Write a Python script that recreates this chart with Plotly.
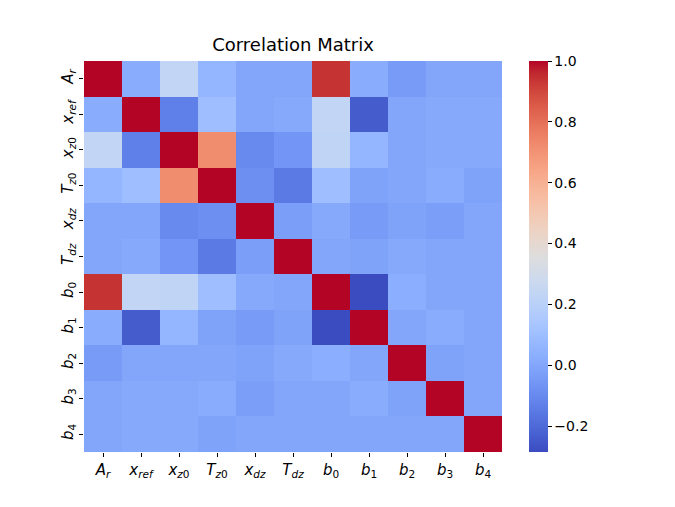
import plotly.graph_objects as go

labels = ["<i>A</i><sub><i>r</i></sub>", "<i>x</i><sub><i>ref</i></sub>", "<i>x</i><sub><i>z</i>0</sub>",
          "<i>T</i><sub><i>z</i>0</sub>", "<i>x</i><sub><i>dz</i></sub>", "<i>T</i><sub><i>dz</i></sub>",
          "<i>b</i><sub>0</sub>", "<i>b</i><sub>1</sub>", "<i>b</i><sub>2</sub>", "<i>b</i><sub>3</sub>",
          "<i>b</i><sub>4</sub>"]

row_Ar   = [1.00, 0.02, 0.24, 0.06, 0.00, 0.00, 0.94, 0.02, -0.04, 0.00, 0.00]
row_xref = [0.02, 1.00, -0.13, 0.10, 0.00, 0.01, 0.24, -0.24, 0.00, 0.01, 0.01]
row_xz0  = [0.24, -0.13, 1.00, 0.72, -0.10, -0.06, 0.23, 0.06, 0.00, 0.01, 0.01]
row_Tz0  = [0.06, 0.10, 0.72, 1.00, -0.08, -0.15, 0.10, -0.01, 0.00, 0.02, -0.01]
row_xdz  = [0.00, 0.00, -0.10, -0.08, 1.00, -0.03, 0.01, -0.04, -0.01, -0.03, 0.00]
row_Tdz  = [0.00, 0.01, -0.06, -0.15, -0.03, 1.00, 0.00, -0.01, 0.01, 0.00, 0.00]
row_b0   = [0.94, 0.24, 0.23, 0.10, 0.01, 0.00, 1.00, -0.285, 0.03, 0.00, 0.00]
row_b1   = [0.02, -0.24, 0.06, -0.01, -0.04, -0.01, -0.285, 1.00, 0.00, 0.02, 0.00]
row_b2   = [-0.04, 0.00, 0.00, 0.00, -0.01, 0.01, 0.03, 0.00, 1.00, -0.01, 0.00]
row_b3   = [0.00, 0.01, 0.01, 0.02, -0.03, 0.00, 0.00, 0.02, -0.01, 1.00, 0.00]
row_b4   = [0.00, 0.01, 0.01, -0.01, 0.00, 0.00, 0.00, 0.00, 0.00, 0.00, 1.00]

corr = [row_Ar, row_xref, row_xz0, row_Tz0, row_xdz, row_Tdz, row_b0, row_b1, row_b2, row_b3, row_b4]

coolwarm_rgb = [
    (59, 76, 192), (68, 90, 204), (77, 104, 215), (87, 117, 225), (98, 130, 234),
    (108, 142, 241), (119, 154, 247), (130, 165, 251), (141, 176, 254), (152, 185, 255),
    (163, 194, 255), (174, 201, 253), (184, 208, 249), (194, 213, 244), (204, 217, 238),
    (213, 219, 230), (221, 221, 221), (229, 216, 209), (236, 211, 197), (241, 204, 184),
    (245, 196, 172), (247, 187, 160), (247, 177, 148), (247, 166, 135), (244, 154, 123),
    (241, 141, 111), (236, 127, 99), (229, 112, 88), (222, 96, 77), (213, 80, 66),
    (203, 62, 56), (192, 40, 47), (180, 4, 38)]
n = len(coolwarm_rgb) - 1
colorscale = [[i / n, "rgb(%d,%d,%d)" % c] for i, c in enumerate(coolwarm_rgb)]

# page offset of 8px (body margin) compensated in margins
L, T, PW, PH = 76, 53, 418, 391

fig = go.Figure(go.Heatmap(
    z=corr, x=list(range(len(labels))), y=list(range(len(labels))),
    colorscale=colorscale,
    colorbar=dict(
        x=(529 - 84) / PW, xanchor="left", xref="paper", xpad=0,
        y=0.5, yanchor="middle", len=1, lenmode="fraction", ypad=0,
        thickness=19, thicknessmode="pixels", outlinewidth=0,
        tickvals=[-0.2, 0, 0.2, 0.4, 0.6, 0.8, 1.0],
        ticktext=["\u22120.2", "0.0", "0.2", "0.4", "0.6", "0.8", "1.0"],
        ticks="outside", ticklen=4, tickcolor="#000", tickwidth=1,
        tickfont=dict(size=14, color="#000"),
    ),
    hoverinfo="skip",
))

fig.update_layout(
    width=675, height=507,
    margin=dict(l=L, r=675 - L - PW, t=T, b=507 - T - PH, autoexpand=False),
    paper_bgcolor="white", plot_bgcolor="white",
    font=dict(family="DejaVu Sans", color="#000"),
    title=dict(text="Correlation Matrix", x=(L + PW / 2) / 675, xanchor="center",
               y=1 - 37 / 507, yanchor="middle", font=dict(size=18, color="#000")),
    xaxis=dict(tickmode="array", tickvals=list(range(len(labels))), ticktext=labels,
               ticks="outside", ticklen=4, tickcolor="#000", showgrid=False, zeroline=False,
               showline=False, tickfont=dict(size=15), tickangle=0, range=[-0.5, 10.5]),
    yaxis=dict(tickmode="array", tickvals=list(range(len(labels))), ticktext=labels,
               ticks="outside", ticklen=4, tickcolor="#000", showgrid=False, zeroline=False,
               showline=False, tickfont=dict(size=15), tickangle=-90, range=[10.5, -0.5]),
)

fig.write_html("out.html")
